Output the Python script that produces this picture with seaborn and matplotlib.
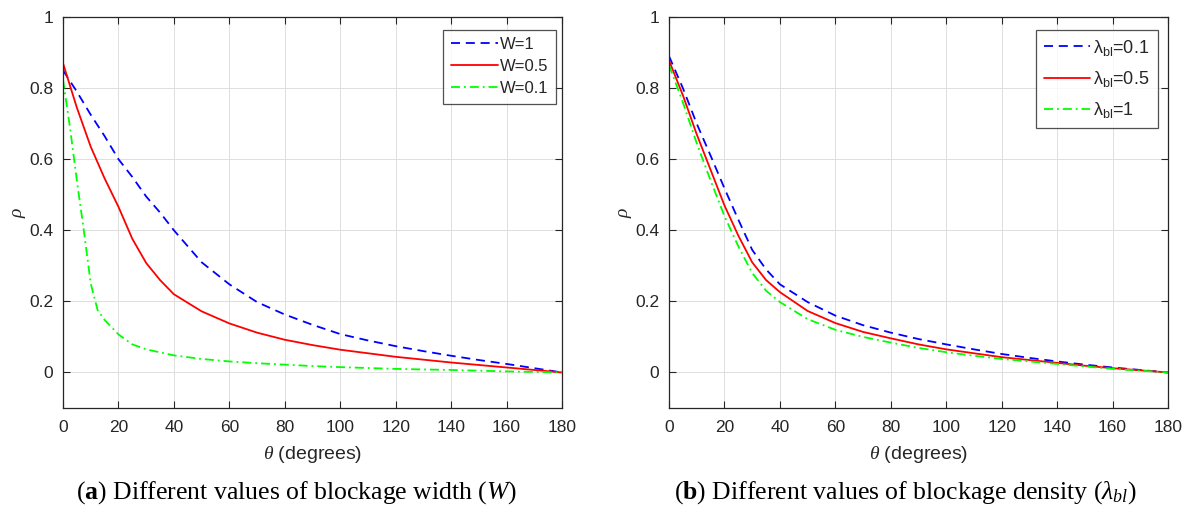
import matplotlib
matplotlib.use("Agg")
import matplotlib.pyplot as plt
import seaborn as sns
import pandas as pd
import numpy as np

# ---------------- data ----------------
theta_a = [0, 5, 10, 15, 20, 25, 30, 35, 40, 50, 60, 70, 80, 90, 100, 110, 120, 130, 140, 150, 160, 170, 180]
rho_w1 = [0.85, 0.79, 0.725, 0.665, 0.60, 0.55, 0.495, 0.45, 0.40, 0.31, 0.248, 0.198, 0.163, 0.134, 0.108,
          0.09, 0.074, 0.06, 0.047, 0.035, 0.024, 0.012, 0.0]
rho_w05 = [0.87, 0.745, 0.635, 0.546, 0.466, 0.376, 0.308, 0.26, 0.22, 0.172, 0.138, 0.112, 0.092, 0.077,
           0.064, 0.054, 0.044, 0.036, 0.028, 0.021, 0.014, 0.007, 0.0]
theta_g = [0, 2.5, 5, 7.5, 10, 12.5, 15, 20, 25, 30, 40, 50, 60, 70, 80, 90, 100, 120, 140, 160, 180]
rho_w01 = [0.824, 0.69, 0.54, 0.40, 0.25, 0.175, 0.148, 0.107, 0.079, 0.065, 0.048, 0.038, 0.031, 0.026,
           0.022, 0.018, 0.015, 0.01, 0.007, 0.003, 0.0]

theta_b = [0, 5, 10, 15, 20, 25, 30, 35, 40, 50, 60, 70, 80, 90, 100, 110, 120, 130, 140, 150, 160, 170, 180]
rho_l01 = [0.89, 0.80, 0.70, 0.61, 0.518, 0.43, 0.345, 0.29, 0.248, 0.198, 0.16, 0.133, 0.112, 0.094, 0.079,
           0.065, 0.052, 0.041, 0.031, 0.022, 0.014, 0.007, 0.0]
rho_l05 = [0.878, 0.78, 0.67, 0.57, 0.47, 0.385, 0.31, 0.26, 0.226, 0.173, 0.139, 0.114, 0.096, 0.079, 0.065,
           0.054, 0.043, 0.035, 0.027, 0.019, 0.012, 0.006, 0.0]
rho_l1 = [0.865, 0.76, 0.645, 0.54, 0.44, 0.355, 0.28, 0.23, 0.198, 0.15, 0.12, 0.10, 0.084, 0.069, 0.057,
          0.047, 0.038, 0.031, 0.024, 0.017, 0.010, 0.005, 0.0]

labels_a = ["W=1", "W=0.5", "W=0.1"]
labels_b = [r"$\mathsf{\lambda_{bl}}$=0.1", r"$\mathsf{\lambda_{bl}}$=0.5", r"$\mathsf{\lambda_{bl}}$=1"]
xticks = [0, 20, 40, 60, 80, 100, 120, 140, 160, 180]
yticks = [0, 0.2, 0.4, 0.6, 0.8, 1.0]
ytick_labels = ["0", "0.2", "0.4", "0.6", "0.8", "1"]
caption_a = r"($\mathbf{a}$) Different values of blockage width ($W$)"
caption_b = r"($\mathbf{b}$) Different values of blockage density ($\lambda_{bl}$)"

# ---------------- style ----------------
sns.set_theme(style="white")
plt.rcParams["font.family"] = ["Liberation Sans", "DejaVu Sans"]
plt.rcParams["mathtext.fontset"] = "custom"
plt.rcParams["mathtext.rm"] = "Liberation Serif"
plt.rcParams["mathtext.it"] = "Liberation Serif:italic"
plt.rcParams["mathtext.bf"] = "Liberation Serif:bold"
plt.rcParams["mathtext.sf"] = "Liberation Sans"

colors = ["#0000FF", "#FF0000", "#00FF00"]
dashes = [(5, 3.2), "", (5, 2.2, 1, 2.2)]

def long_df(parts, labels):
    frames = []
    for (th, rho), lab in zip(parts, labels):
        frames.append(pd.DataFrame({"theta": th, "rho": rho, "series": lab}))
    return pd.concat(frames, ignore_index=True)

df_a = long_df([(theta_a, rho_w1), (theta_a, rho_w05), (theta_g, rho_w01)], labels_a)
df_b = long_df([(theta_b, rho_l01), (theta_b, rho_l05), (theta_b, rho_l1)], labels_b)

fig = plt.figure(figsize=(11.89, 5.08), dpi=100)
ax1 = fig.add_axes([63 / 1189, 1 - 408 / 508, (562 - 63) / 1189, (408 - 17) / 508])
ax2 = fig.add_axes([669 / 1189, 1 - 408 / 508, (1168 - 669) / 1189, (408 - 17) / 508])

edge = "#262626"
legend_cfg = {
    0: dict(anchor=(0.988, 0.968), labelspacing=0.42, fontsize=12),
    1: dict(anchor=(0.979, 0.968), labelspacing=0.62, fontsize=13),
}
for i, (ax, df, labels) in enumerate([(ax1, df_a, labels_a), (ax2, df_b, labels_b)]):
    sns.lineplot(data=df, x="theta", y="rho", hue="series", style="series",
                 hue_order=labels, style_order=labels,
                 palette=dict(zip(labels, colors)), dashes=dict(zip(labels, dashes)),
                 linewidth=1.3, ax=ax, sort=False, estimator=None)
    ax.set_xlim(0, 180)
    ax.set_ylim(-0.1, 1)
    ax.set_xticks(xticks)
    ax.set_yticks(yticks)
    ax.set_yticklabels(ytick_labels)
    ax.grid(True, color="#DFDFDF", linewidth=0.7)
    ax.set_axisbelow(True)
    for sp in ax.spines.values():
        sp.set_visible(True)
        sp.set_color(edge)
        sp.set_linewidth(0.9)
    ax.tick_params(direction="in", length=5, width=0.8, color=edge, labelsize=12.5,
                   labelcolor="#262626", top=True, right=True, bottom=True, left=True)
    ax.tick_params(axis="x", pad=9)
    ax.tick_params(axis="y", pad=7)
    ax.set_xlabel(r"$\theta$ (degrees)", fontsize=14, color="#262626", labelpad=6)
    ax.set_ylabel(r"$\rho$", fontsize=14, color="#262626", labelpad=1)
    cfg = legend_cfg[i]
    leg = ax.legend(loc="upper right", fontsize=cfg["fontsize"], frameon=True, fancybox=False,
                    edgecolor=edge, handlelength=2.8 * 12 / cfg["fontsize"], handletextpad=0.15,
                    borderpad=0.45, labelspacing=cfg["labelspacing"], borderaxespad=0.0,
                    bbox_to_anchor=cfg["anchor"])
    leg.get_frame().set_linewidth(0.9)
    leg.get_frame().set_facecolor("white")

fig.text(297 / 1189, 1 - 493 / 508, caption_a, ha="center", va="center",
         fontsize=18.5, family="Liberation Serif", color="black")
fig.text(905 / 1189, 1 - 493 / 508, caption_b, ha="center", va="center",
         fontsize=18.5, family="Liberation Serif", color="black")

fig.savefig("out.png", dpi=100)
